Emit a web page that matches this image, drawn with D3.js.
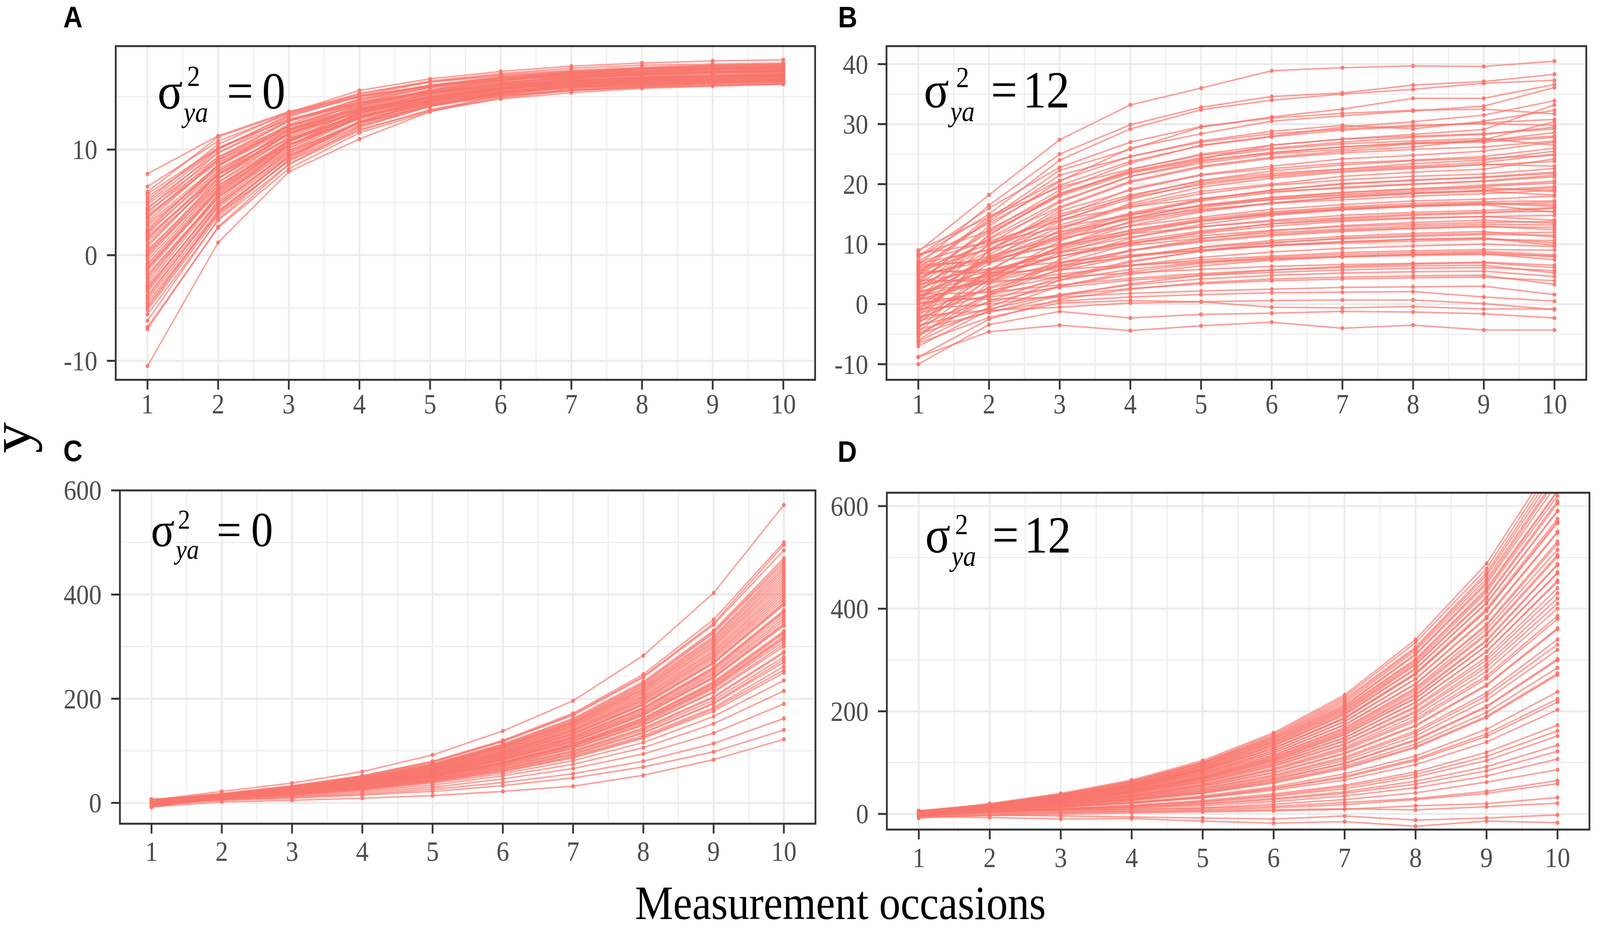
<!DOCTYPE html>
<html><head><meta charset="utf-8">
<script src="https://cdn.jsdelivr.net/npm/d3@7"></script>
<style>html,body{margin:0;padding:0;background:#fff;overflow:hidden;} svg{display:block;width:100vw;height:100vh;}</style>
</head><body>
<svg id="chart" viewBox="0 0 4550 2380" preserveAspectRatio="none"></svg>
<script>
// ---------------- DATA ----------------
const occasions = [1,2,3,4,5,6,7,8,9,10];
const xTickLabels = ["1","2","3","4","5","6","7","8","9","10"];
const yTicksA = [-10,0,10];
const yTicksB = [-10,0,10,20,30,40];
const yTicksC = [0,200,400,600];
const yTicksD = [0,200,400,600];
const panelLetters = ["A","B","C","D"];
const sigmaValues = ["0","12","0","12"];
const xAxisTitle = "Measurement occasions";
const yAxisTitle = "y";

// Panel A: sigma^2_ya = 0 (saturating growth)
const linesA = [
[7.7,11.3,13.6,15.1,16.0,16.6,17.0,17.3,17.4,17.5],
[6.0,11.2,13.5,15.6,16.7,17.4,17.9,18.2,18.4,18.5],
[5.5,10.1,12.9,14.5,15.5,16.1,16.5,16.7,16.8,16.9],
[5.0,10.1,13.2,15.0,16.1,16.8,17.2,17.4,17.6,17.7],
[4.5,9.3,12.2,13.9,14.9,15.6,15.9,16.2,16.3,16.4],
[4.0,9.7,13.1,15.1,16.4,17.1,17.5,17.8,18.0,18.1],
[3.5,9.0,12.3,14.2,15.4,16.1,16.6,16.8,17.0,17.1],
[3.0,8.5,11.8,13.8,15.0,15.7,16.2,16.4,16.6,16.7],
[2.5,8.5,12.2,14.3,15.6,16.4,16.9,17.2,17.3,17.4],
[2.0,8.4,12.2,14.5,15.9,16.8,17.2,17.6,17.7,17.8],
[1.5,7.7,11.4,13.7,15.0,15.8,16.3,16.6,16.7,16.8],
[1.0,7.6,11.5,13.9,15.3,16.1,16.6,16.9,17.1,17.2],
[0.5,6.9,10.8,13.1,14.5,15.3,15.8,16.1,16.3,16.4],
[0.0,7.2,11.5,14.0,15.6,16.5,17.1,17.4,17.6,17.7],
[-0.5,6.6,10.8,13.4,14.9,15.8,16.4,16.7,16.9,17.0],
[-1.0,6.2,10.5,13.0,14.6,15.5,16.1,16.4,16.6,16.7],
[-1.5,6.1,10.7,13.5,15.1,16.1,16.7,17.1,17.3,17.4],
[-2.0,5.7,10.4,13.1,14.8,15.8,16.4,16.8,17.0,17.1],
[-2.5,5.8,10.8,13.8,15.6,16.7,17.3,17.7,18.0,18.1],
[-3.0,4.9,9.7,12.5,14.2,15.3,15.9,16.2,16.5,16.6],
[-3.5,4.7,9.7,12.7,14.4,15.5,16.1,16.5,16.8,16.9],
[-4.0,4.7,9.9,13.0,14.9,16.0,16.7,17.1,17.3,17.5],
[-4.5,3.9,8.9,11.9,13.7,14.8,15.4,15.8,16.0,16.2],
[-5.0,4.0,9.3,12.6,14.5,15.7,16.3,16.8,17.0,17.2],
[-5.2,3.7,9.0,12.2,14.1,15.3,16.0,16.4,16.6,16.8],
[-6.8,2.6,8.2,11.6,13.6,14.9,15.6,16.0,16.3,16.5],
[-7.0,2.7,8.6,12.1,14.1,15.4,16.2,16.6,16.9,17.1],
[-10.5,1.2,7.9,11.0,13.6,15.2,16.0,16.6,16.9,17.1],
[4.8,9.7,12.7,14.4,15.5,16.1,16.5,16.8,16.9,17.0],
[1.8,7.6,11.1,13.2,14.4,15.2,15.6,15.9,16.1,16.2],
[-2.8,5.5,10.4,13.4,15.2,16.3,16.9,17.3,17.6,17.7],
[0.8,7.7,11.9,14.4,15.9,16.8,17.3,17.6,17.8,17.9],
[-4.2,4.2,9.3,12.3,14.2,15.3,15.9,16.3,16.5,16.7],
[5.8,10.2,12.8,14.4,15.4,15.9,16.3,16.5,16.6,16.7],
[3.2,9.1,12.7,14.8,16.1,16.8,17.3,17.6,17.7,17.8],
[-1.8,5.5,9.9,12.5,14.1,15.1,15.6,16.0,16.2,16.3],
[2.2,8.0,11.6,13.6,15.0,15.9,16.4,16.6,16.9,16.9],
[-0.2,6.9,11.2,13.7,15.3,16.2,16.8,17.0,17.3,17.3],
[3.8,8.8,11.9,13.8,15.0,15.8,16.2,16.5,16.6,16.6],
[-3.2,5.0,10.1,13.2,15.0,16.2,16.9,17.4,17.6,17.8],
[6.5,10.8,13.4,15.0,16.0,16.6,17.0,17.2,17.4,17.5],
[5.2,10.5,13.5,15.3,16.4,17.0,17.4,17.7,17.8,17.9],
[4.2,9.0,12.0,13.8,15.0,15.7,16.1,16.4,16.6,16.6],
[3.6,9.3,12.7,14.7,15.9,16.6,17.1,17.4,17.5,17.6],
[2.8,8.2,11.5,13.5,14.7,15.5,15.9,16.2,16.4,16.5],
[2.3,8.6,12.4,14.7,16.1,16.9,17.4,17.7,17.9,18.0],
[1.3,7.3,11.0,13.2,14.6,15.4,15.9,16.2,16.4,16.5],
[0.3,7.3,11.6,14.2,15.7,16.6,17.2,17.5,17.7,17.8],
[-0.8,6.4,10.8,13.4,15.0,15.9,16.5,16.8,17.0,17.1],
[-1.2,6.0,10.4,13.0,14.6,15.5,16.0,16.3,16.5,16.6],
[-2.2,5.5,10.2,13.0,14.7,15.7,16.3,16.7,16.9,17.0],
[-3.8,4.5,9.5,12.5,14.3,15.4,16.1,16.5,16.7,16.9],
[-4.8,4.1,9.4,12.6,14.6,15.8,16.5,16.9,17.2,17.3],
[-5.6,3.3,8.6,11.8,13.8,15.0,15.7,16.1,16.4,16.5],
[-6.2,3.4,9.1,12.6,14.7,15.9,16.7,17.1,17.4,17.6],
[-3.3,5.2,10.4,13.5,15.4,16.5,17.2,17.6,17.9,18.0],
[0.2,6.6,10.5,12.9,14.3,15.1,15.6,15.9,16.1,16.2],
[4.4,10.0,13.3,15.3,16.5,17.2,17.7,18.0,18.1,18.2],
[1.6,7.9,11.8,14.1,15.5,16.3,16.8,17.1,17.3,17.4],
[-1.3,6.3,10.9,13.7,15.3,16.3,16.9,17.2,17.4,17.5]
];

// Panel B: sigma^2_ya = 12
const linesB = [
[8.8,18.2,27.4,33.2,36.0,38.9,39.4,39.7,39.6,40.5],
[6.5,16.5,25.0,29.9,32.8,34.6,35.2,36.5,37.1,38.3],
[7.8,15.0,24.0,29.2,32.4,34.0,35.0,35.8,36.8,37.3],
[5.0,14.2,22.3,25.8,29.5,31.2,32.5,34.3,34.3,36.6],
[3.5,13.0,20.5,26.0,28.4,30.5,31.4,32.2,33.0,36.1],
[8.2,12.2,19.0,23.5,26.5,28.0,29.5,30.4,31.5,33.9],
[2.0,11.5,18.5,22.0,24.2,26.5,27.5,28.3,29.1,33.2],
[6.0,13.8,21.5,24.6,27.2,28.8,29.8,29.2,30.5,32.3],
[4.2,10.8,16.2,20.5,23.0,24.5,25.5,26.2,27.4,30.4],
[0.5,10.0,17.0,21.3,23.5,25.0,25.8,26.7,27.2,28.6],
[-2.0,8.2,14.5,19.2,21.6,23.0,24.2,24.8,25.5,27.0],
[5.5,9.2,14.0,17.5,20.2,21.5,22.5,23.4,24.0,25.5],
[3.0,8.8,13.2,16.5,18.8,20.0,21.3,22.0,22.5,24.2],
[-4.0,5.5,12.4,16.8,19.5,21.0,22.0,22.6,23.3,23.0],
[1.2,7.5,12.0,15.2,17.5,19.0,20.1,20.6,21.2,22.0],
[7.0,10.5,14.0,16.2,17.6,18.8,19.3,20.0,20.5,21.2],
[-1.0,6.8,11.2,14.3,16.5,17.8,18.6,19.2,19.8,20.5],
[2.5,7.0,10.8,13.6,15.6,16.8,17.8,18.5,19.0,19.6],
[-5.5,3.5,9.6,13.8,16.1,17.5,18.3,18.9,19.4,18.8],
[4.5,8.0,11.0,13.0,14.5,15.8,16.6,17.2,17.5,18.0],
[0.0,5.2,9.4,12.3,14.2,15.4,16.2,16.8,17.1,17.2],
[-3.0,4.0,8.5,11.8,13.8,15.0,15.8,16.4,16.8,16.3],
[6.2,7.5,9.8,11.7,12.9,13.8,14.4,15.0,15.3,15.5],
[1.8,5.0,8.0,10.2,11.8,13.0,13.8,14.3,14.6,14.8],
[-6.0,1.5,6.8,10.0,12.0,13.4,14.0,14.4,14.6,14.0],
[3.8,5.8,8.0,9.8,11.0,11.9,12.5,13.0,13.3,13.2],
[-2.5,2.8,6.4,9.0,10.6,11.6,12.3,12.7,13.0,12.4],
[0.8,3.8,6.2,8.0,9.4,10.3,10.9,11.3,11.6,11.5],
[5.2,5.8,7.0,8.2,9.0,9.7,10.2,10.5,10.8,10.6],
[-4.8,0.5,4.5,7.2,8.8,9.8,10.4,10.8,11.0,9.8],
[2.2,3.5,5.0,6.4,7.4,8.0,8.6,8.9,9.1,9.0],
[-1.5,1.5,4.0,5.8,7.0,7.8,8.3,8.6,8.8,8.2],
[-7.0,-1.0,3.0,5.4,6.8,7.5,8.0,8.3,8.4,7.4],
[4.0,3.8,4.5,5.2,5.8,6.3,6.6,6.8,7.0,6.5],
[0.2,1.2,2.8,4.0,4.8,5.3,5.7,6.0,6.1,5.6],
[-3.5,-0.8,1.6,3.2,4.2,4.8,5.2,5.4,5.5,4.6],
[-8.8,-2.5,0.8,2.5,3.6,4.2,4.5,4.7,4.8,3.3],
[1.0,0.8,1.2,1.8,2.2,2.5,2.8,2.9,3.0,1.6],
[-5.0,-1.2,0.5,1.2,1.6,1.9,2.0,2.1,1.2,0.5],
[-2.0,-1.0,-0.5,0.2,0.4,0.6,0.7,0.7,0.1,-0.9],
[-10.0,-3.4,-1.2,-2.3,-1.7,-1.5,-1.2,-1.3,-1.6,-2.3],
[-8.8,-4.6,-3.5,-4.4,-3.6,-3.0,-4.0,-3.5,-4.3,-4.3],
[-6.5,-2.2,0.2,0.6,0.4,-0.5,-0.6,-0.4,-0.8,-0.8],
[9.0,14.5,19.5,22.5,24.8,26.0,27.0,27.8,28.3,29.5],
[4.8,12.0,18.0,21.8,24.0,25.2,26.2,26.8,27.0,27.8],
[-0.8,8.8,15.5,19.0,21.5,22.6,23.5,24.0,24.6,26.0],
[2.8,9.8,15.0,18.2,20.5,21.8,22.5,23.0,23.6,25.0],
[-3.2,5.8,11.6,15.0,17.2,18.6,19.5,20.0,20.5,21.5],
[6.8,9.0,12.0,14.2,15.8,16.8,17.4,18.0,18.4,19.0],
[0.5,4.5,8.0,10.5,12.2,13.4,14.2,14.8,15.2,16.0],
[7.2,13.5,19.8,23.8,26.4,27.9,29.0,29.6,30.2,30.8],
[3.3,11.0,17.2,21.3,23.8,25.3,26.2,26.9,27.3,28.0],
[-1.5,7.5,13.8,18.0,20.6,22.2,23.2,23.9,24.3,24.8],
[5.8,10.0,14.6,17.8,19.9,21.3,22.2,22.8,23.2,23.8],
[0.8,7.8,12.8,16.2,18.4,19.8,20.7,21.3,21.7,22.6],
[-4.5,4.2,10.5,14.8,17.4,19.0,20.0,20.7,21.1,21.8],
[2.6,7.4,11.5,14.4,16.4,17.7,18.6,19.2,19.6,20.2],
[8.4,10.2,12.8,14.9,16.4,17.4,18.1,18.6,18.9,19.3],
[-2.4,4.6,9.6,13.1,15.4,16.9,17.8,18.4,18.8,18.2],
[4.9,7.2,10.0,12.3,13.9,15.0,15.8,16.3,16.6,17.0],
[-0.5,5.0,9.1,12.0,13.9,15.2,16.0,16.5,16.9,16.6],
[2.0,5.6,8.8,11.2,12.9,14.0,14.8,15.3,15.6,16.1],
[-5.2,1.8,7.4,11.0,13.3,14.8,15.7,16.3,16.6,15.3],
[6.6,7.0,8.6,10.2,11.4,12.3,12.9,13.3,13.6,13.8],
[-3.8,1.6,5.8,8.9,10.9,12.2,13.1,13.6,14.0,13.5],
[1.4,4.0,6.8,8.9,10.4,11.4,12.1,12.6,12.9,12.8],
[-1.0,2.6,5.6,7.9,9.5,10.6,11.3,11.8,12.1,11.2],
[3.4,4.6,6.4,7.9,9.0,9.8,10.4,10.8,11.0,10.2],
[-6.2,-0.5,4.0,7.0,8.9,10.2,11.0,11.5,11.8,12.0],
[0.0,2.2,4.6,6.5,7.8,8.7,9.3,9.7,10.0,9.6],
[-2.8,0.3,3.0,5.0,6.4,7.3,7.9,8.3,8.6,7.9],
[5.6,5.2,5.8,6.5,7.1,7.6,7.9,8.1,8.3,8.0],
[-4.2,-1.4,1.4,3.4,4.8,5.7,6.3,6.7,6.9,6.1],
[1.6,2.0,3.2,4.3,5.1,5.7,6.1,6.4,6.5,5.2],
[-0.8,0.0,1.5,2.6,3.4,3.9,4.2,4.4,4.5,3.9],
[8.0,16.0,22.8,27.0,29.6,31.0,31.8,32.3,32.5,31.7],
[5.3,14.6,20.6,24.6,27.0,28.4,29.2,29.8,30.1,29.8],
[0.8,11.6,18.2,22.4,25.0,26.5,27.5,28.0,28.4,29.2],
[-2.8,9.0,16.0,20.3,22.8,24.3,25.2,25.8,26.2,27.2],
[3.9,12.5,18.3,22.1,24.4,25.8,26.7,27.2,27.6,26.5]
];

// Panel C: sigma^2_ya = 0 (accelerating growth)
const linesC = [
[5,22,38,60,92,138,196,283,403,572],
[3,17,32,52,80,120,172,247,352,500],
[-2,16,31,50,78,118,170,243,345,495],
[6,18,33,52,79,118,168,241,342,485],
[5,17,31,49,74,112,160,230,328,465],
[0,16,30,49,75,113,162,233,331,470],
[-4,14,28,47,73,110,158,228,326,460],
[2,16,29,47,72,108,155,223,317,450],
[-3,14,28,46,71,107,153,220,314,445],
[-6,13,27,45,70,106,152,218,310,440],
[4,15,28,45,69,103,148,213,303,430],
[1,15,28,44,68,102,147,211,300,425],
[-1,14,27,44,67,101,145,208,296,420],
[-8,12,25,42,65,98,141,203,289,410],
[6,15,27,43,65,97,140,200,285,405],
[3,14,26,42,64,96,138,198,282,400],
[-3,13,25,41,62,94,134,193,275,390],
[-5,12,24,40,62,92,133,190,271,385],
[1,13,25,40,61,91,131,188,268,380],
[-5,12,24,39,59,89,128,183,261,370],
[2,13,24,38,58,88,126,181,257,365],
[5,14,24,38,58,86,124,178,254,360],
[-2,12,23,37,56,84,121,173,247,350],
[-1,12,22,36,55,83,119,171,243,345],
[2,12,22,36,54,82,117,168,240,340],
[-6,10,21,35,53,79,114,163,233,330],
[3,12,21,34,52,78,112,161,229,325],
[0,11,21,34,51,77,110,158,226,320],
[-6,9,20,33,50,76,109,156,222,315],
[7,13,21,33,50,74,107,153,219,310],
[-4,10,19,32,48,72,104,149,212,300],
[1,10,19,30,46,70,100,144,204,290],
[-7,8,18,29,45,67,97,139,197,280],
[3,10,18,28,43,65,93,134,190,270],
[-1,9,17,27,41,61,88,126,180,255],
[4,9,16,26,40,60,86,124,176,250],
[-3,8,15,25,38,56,81,116,166,235],
[2,8,14,23,34,52,74,106,152,215],
[-5,6,12,20,30,46,66,94,134,190],
[1,6,11,17,26,39,56,80,114,162],
[-2,5,9,15,22,33,48,69,98,140],
[-8,2,5,9,14,22,32,53,83,122],
[-2,15,29,47,72,109,156,225,320,455],
[4,16,29,46,70,105,150,216,307,435],
[-5,13,26,43,66,99,143,205,292,415],
[2,14,26,42,64,95,137,196,279,395],
[-1,13,25,40,61,92,132,189,269,382],
[6,14,25,39,59,88,127,182,259,368],
[-4,11,23,37,57,85,123,175,250,355],
[1,12,22,36,55,82,118,169,240,342],
[-7,10,21,34,52,78,113,162,230,328],
[3,12,21,34,51,76,110,157,223,318],
[0,11,20,32,49,73,105,150,214,305],
[-3,9,18,30,46,69,99,142,202,288],
[5,11,18,29,44,65,94,135,192,275],
[-2,9,17,28,42,63,90,129,183,262]
];

// Panel D: sigma^2_ya = 12
const linesD = [
[3,20,40,66,104,158,232,340,488,700],
[0,18,38,64,101,155,228,334,478,690],
[-4,17,37,62,100,152,224,325,470,680],
[5,19,38,63,99,150,220,322,465,670],
[6,19,38,62,98,148,216,318,458,660],
[-3,15,34,59,96,146,212,312,452,655],
[-2,16,35,59,95,145,210,310,448,645],
[1,17,35,58,93,141,205,300,440,630],
[4,18,35,57,91,139,202,296,432,620],
[-5,14,32,55,88,135,197,290,420,605],
[2,16,33,55,87,132,193,282,412,591],
[-1,15,32,53,85,128,188,275,400,575],
[5,17,33,53,84,127,185,272,396,567],
[-3,14,30,51,81,123,180,263,384,550],
[0,14,30,50,79,119,174,254,370,531],
[6,16,30,49,76,115,168,246,360,515],
[-6,12,27,46,73,111,163,239,349,501],
[2,14,28,46,71,108,158,231,337,485],
[-2,13,27,44,69,105,154,225,328,471],
[4,14,27,43,67,101,148,217,317,455],
[-4,12,25,41,65,98,143,210,306,440],
[1,13,24,40,62,94,137,200,292,420],
[-7,10,22,37,58,89,130,191,278,400],
[3,12,22,36,56,85,124,181,264,380],
[-1,11,21,34,53,80,117,171,250,360],
[5,12,21,33,50,76,111,162,236,340],
[-3,10,19,30,47,71,104,152,222,320],
[0,10,18,29,44,67,98,143,208,300],
[4,10,18,28,42,64,93,136,198,285],
[-5,8,16,26,40,60,88,129,188,271],
[2,8,15,23,35,53,78,113,165,238],
[-2,7,13,22,33,50,73,107,156,224],
[6,9,14,21,31,46,66,96,140,203],
[-4,5,10,17,26,39,56,82,120,173],
[1,6,10,15,23,34,49,72,104,152],
[-6,3,8,13,20,30,43,64,92,134],
[3,5,8,11,16,24,35,51,74,107],
[-3,2,5,8,12,19,28,41,62,86],
[5,5,7,9,11,15,22,30,44,65],
[-8,-2,2,5,8,12,18,28,40,59],
[2,1,3,5,6,8,10,8,14,21],
[-5,-7,-10,-9,-14,-18,-15,-24,-14,-17],
[2,17,35,58,93,142,207,302,436,628],
[-3,15,33,56,90,137,200,292,423,610],
[5,17,33,55,87,133,194,284,410,590],
[-1,15,31,53,84,128,187,273,396,570],
[3,15,31,51,81,123,180,263,381,548],
[-4,13,29,49,78,119,173,253,367,526],
[1,14,28,47,75,114,166,243,352,505],
[-6,11,26,45,72,110,160,234,339,487],
[4,14,27,45,70,106,155,226,328,469],
[0,13,26,43,68,103,149,218,316,452],
[-2,12,24,41,64,97,142,207,300,430],
[5,13,24,39,61,93,135,197,286,410],
[-5,10,21,36,57,87,127,185,269,386],
[2,11,21,34,54,81,119,173,252,362],
[-1,10,19,31,49,74,108,158,230,330],
[3,10,18,29,45,68,99,145,210,302],
[-3,8,16,26,41,62,90,131,190,274],
[1,7,13,21,32,49,71,104,151,218],
[-2,5,10,16,24,36,53,77,112,162],
[4,6,9,13,19,28,40,58,84,122],
[-5,-3,-1,2,4,6,9,16,20,32],
[0,-2,-4,-6,-8,-10,-4,-12,-8,-2]
];

// ---------------- LAYOUT ----------------
const COLOR = "#F8766D";
const SERIF = "'Liberation Serif','Times New Roman',Times,serif";
const SANS = "'Liberation Sans',Arial,Helvetica,sans-serif";

const panels = [
  {lines: linesA, yTicks: yTicksA, yDomain: [-11.8, 19.8], box: {l: 329, r: 2318, t: 118, b: 972},
   letter: {x: 180, y: 70}, xLabBase: 1058,
   ann: {x: 448, y: 278, supDx: 84, supDy: -58, subDx: 74, subDy: 34, eqDx: 197, valDx: 297, size: 133, small: 74}},
  {lines: linesB, yTicks: yTicksB, yDomain: [-12.6, 43.0], box: {l: 2521, r: 4511, t: 118, b: 972},
   letter: {x: 2383, y: 70}, xLabBase: 1058,
   ann: {x: 2627, y: 275, supDx: 92, supDy: -52, subDx: 75, subDy: 35, eqDx: 191, valDx: 282, size: 133, small: 74}},
  {lines: linesC, yTicks: yTicksC, yDomain: [-40, 600], box: {l: 341, r: 2319, t: 1255, b: 2108},
   letter: {x: 180, y: 1180}, xLabBase: 2203,
   ann: {x: 429, y: 1398, supDx: 77, supDy: -45, subDx: 71, subDy: 32, eqDx: 187, valDx: 285, size: 125, small: 70}},
  {lines: linesD, yTicks: yTicksD, yDomain: [-30.5, 626], box: {l: 2522, r: 4520, t: 1261, b: 2123},
   letter: {x: 2382, y: 1182}, xLabBase: 2219,
   ann: {x: 2631, y: 1414, supDx: 85, supDy: -47, subDx: 75, subDy: 34, eqDx: 191, valDx: 282, size: 133, small: 74}}
];

const svg = d3.select("#chart");
svg.append("rect").attr("width", 4550).attr("height", 2380).attr("fill", "#fff");
const defs = svg.append("defs");

panels.forEach((p, i) => {
  const {l, r, t, b} = p.box;
  const x = d3.scaleLinear().domain([0.55, 10.45]).range([l, r]);
  const y = d3.scaleLinear().domain(p.yDomain).range([b, t]);
  const g = svg.append("g");

  // minor grid
  const step = p.yTicks[1] - p.yTicks[0];
  const ext = [p.yTicks[0] - step, ...p.yTicks, p.yTicks[p.yTicks.length - 1] + step];
  const yMinor = d3.pairs(ext).map(([a, c]) => (a + c) / 2).filter(v => v > p.yDomain[0] && v < p.yDomain[1]);
  const xMinor = d3.pairs(occasions).map(([a, c]) => (a + c) / 2);
  g.selectAll(".ym").data(yMinor).join("line")
    .attr("x1", l).attr("x2", r).attr("y1", d => y(d)).attr("y2", d => y(d))
    .attr("stroke", "#ebebeb").attr("stroke-width", 2.6);
  g.selectAll(".xm").data(xMinor).join("line")
    .attr("y1", t).attr("y2", b).attr("x1", d => x(d)).attr("x2", d => x(d))
    .attr("stroke", "#ebebeb").attr("stroke-width", 2.6);
  // major grid
  g.selectAll(".yM").data(p.yTicks).join("line")
    .attr("x1", l).attr("x2", r).attr("y1", d => y(d)).attr("y2", d => y(d))
    .attr("stroke", "#ebebeb").attr("stroke-width", 5);
  g.selectAll(".xM").data(occasions).join("line")
    .attr("y1", t).attr("y2", b).attr("x1", d => x(d)).attr("x2", d => x(d))
    .attr("stroke", "#ebebeb").attr("stroke-width", 5);

  // clip
  defs.append("clipPath").attr("id", "clip" + i)
    .append("rect").attr("x", l).attr("y", t).attr("width", r - l).attr("height", b - t);
  const marks = g.append("g").attr("clip-path", `url(#clip${i})`);
  const line = d3.line().x((d, k) => x(occasions[k])).y(d => y(d));
  marks.selectAll("path.traj").data(p.lines).join("path")
    .attr("d", line).attr("fill", "none")
    .attr("stroke", COLOR).attr("stroke-width", 4).attr("stroke-opacity", 0.68);
  const pts = p.lines.flatMap(row => row.map((v, k) => [occasions[k], v]));
  marks.selectAll("circle").data(pts).join("circle")
    .attr("cx", d => x(d[0])).attr("cy", d => y(d[1])).attr("r", 5.5)
    .attr("fill", COLOR).attr("fill-opacity", 0.9);

  // border
  g.append("rect").attr("x", l).attr("y", t).attr("width", r - l).attr("height", b - t)
    .attr("fill", "none").attr("stroke", "#333").attr("stroke-width", 5);

  // axes ticks
  g.selectAll(".xt").data(occasions).join("line")
    .attr("x1", d => x(d)).attr("x2", d => x(d)).attr("y1", b).attr("y2", b + 25)
    .attr("stroke", "#333").attr("stroke-width", 5);
  g.selectAll(".xl").data(occasions).join("text")
    .attr("x", d => x(d)).attr("y", p.xLabBase).attr("text-anchor", "middle")
    .attr("font-family", SERIF).attr("font-size", 72).attr("fill", "#4d4d4d")
    .text((d, k) => xTickLabels[k]);
  g.selectAll(".yt").data(p.yTicks).join("line")
    .attr("x1", l - 25).attr("x2", l).attr("y1", d => y(d)).attr("y2", d => y(d))
    .attr("stroke", "#333").attr("stroke-width", 5);
  g.selectAll(".yl").data(p.yTicks).join("text")
    .attr("x", l - 52).attr("y", d => y(d)).attr("dy", "0.34em").attr("text-anchor", "end")
    .attr("font-family", SERIF).attr("font-size", 72).attr("fill", "#4d4d4d")
    .text(d => String(d));

  // panel letter
  svg.append("text").attr("x", p.letter.x).attr("y", p.letter.y)
    .attr("font-family", SANS).attr("font-weight", "bold").attr("font-size", 76).attr("fill", "#000")
    .text(panelLetters[i]);

  // annotation sigma^2_ya = value
  const a = p.ann;
  const ag = svg.append("g").attr("font-family", SERIF).attr("fill", "#000");
  ag.append("text").attr("x", a.x).attr("y", a.y).attr("font-size", a.size).text("σ");
  ag.append("text").attr("x", a.x + a.supDx).attr("y", a.y + a.supDy).attr("font-size", a.small).text("2");
  ag.append("text").attr("x", a.x + a.subDx).attr("y", a.y + a.subDy).attr("font-size", a.small)
    .attr("font-style", "italic").text("ya");
  ag.append("text").attr("x", a.x + a.eqDx).attr("y", a.y).attr("font-size", a.size).text("=");
  ag.append("text").attr("x", a.x + a.valDx).attr("y", a.y).attr("font-size", a.size).text(sigmaValues[i]);
});

// axis titles
svg.append("text").attr("x", 2390).attr("y", 2352).attr("text-anchor", "middle")
  .attr("font-family", SERIF).attr("font-size", 122).attr("fill", "#000").text(xAxisTitle);
svg.append("text").attr("transform", "translate(86,1120) rotate(-90)").attr("text-anchor", "middle")
  .attr("font-family", SERIF).attr("font-size", 160).attr("fill", "#000").text(yAxisTitle);
</script>
</body></html>
